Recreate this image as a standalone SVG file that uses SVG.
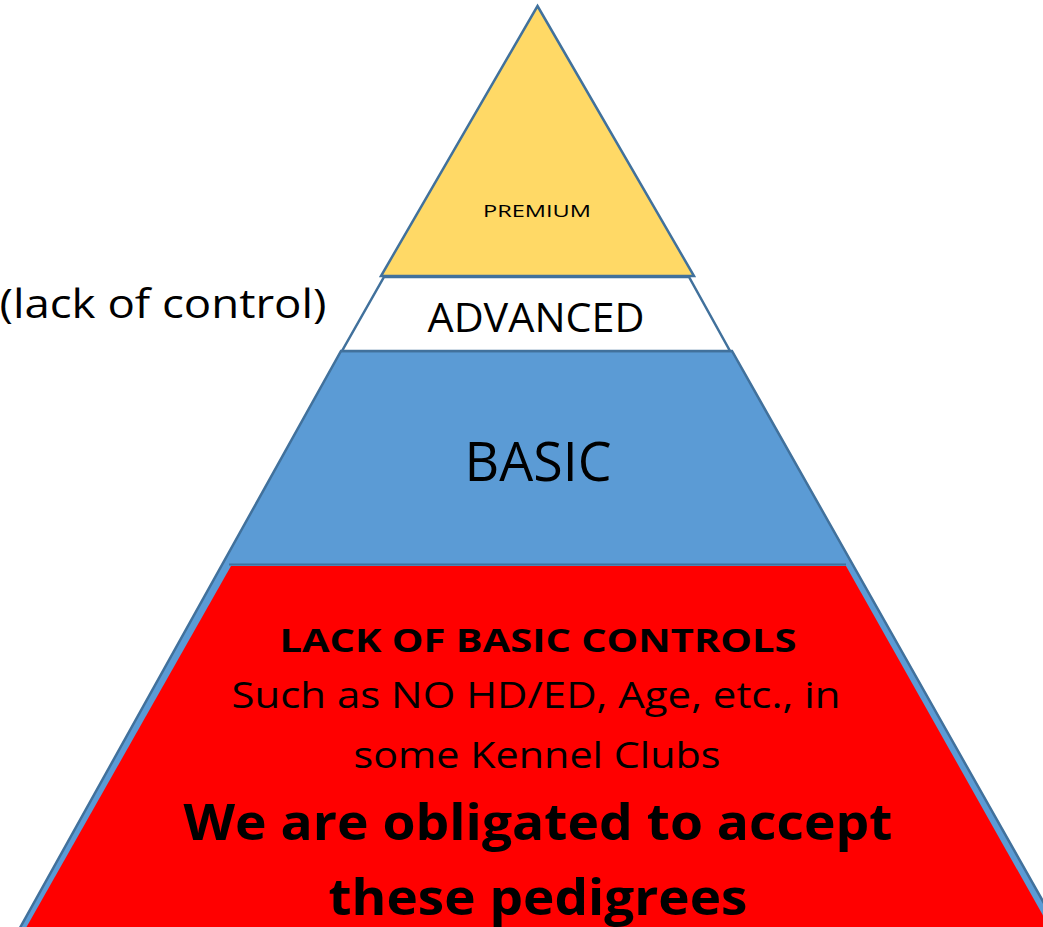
<svg xmlns="http://www.w3.org/2000/svg" width="1043" height="927" viewBox="0 0 1043 927">
<style>
.edge{stroke:#41719C;stroke-width:2.5;stroke-linejoin:miter}
.t{font-family:"Open Sans","Liberation Sans",Arial,sans-serif;fill:#000;text-anchor:middle}
.b{font-weight:bold}
</style>
<rect width="1043" height="927" fill="#fff"/>
<g id="basic">
<polygon class="edge" fill="#5B9BD5" points="341,351 732,351 1062,935 16,935"/>
<text class="t" x="538" y="481" font-size="54" textLength="147" lengthAdjust="spacingAndGlyphs">BASIC</text>
</g>
<g id="advanced">
<polygon class="edge" fill="#fff" points="384,277 689,277 730,351 342,351"/>
<text class="t" x="536" y="332" font-size="40" textLength="217" lengthAdjust="spacingAndGlyphs">ADVANCED</text>
</g>
<g id="premium">
<polygon class="edge" fill="#FFD966" points="537.5,6 694,276 381,276"/>
<text class="t" x="537" y="217" font-size="17" textLength="108" lengthAdjust="spacingAndGlyphs">PREMIUM</text>
</g>
<g id="lack">
<polygon fill="#FF0000" points="231,566 846,566 1054,935 22,935"/>
<line x1="229" y1="564.5" x2="846" y2="564.5" stroke="#41719C" stroke-width="2"/>
<text class="t b" x="538" y="652" font-size="33" textLength="517" lengthAdjust="spacingAndGlyphs">LACK OF BASIC CONTROLS</text>
<text class="t" x="536" y="708" font-size="37" textLength="609" lengthAdjust="spacingAndGlyphs">Such as NO HD/ED, Age, etc., in</text>
<text class="t" x="537" y="768" font-size="37" textLength="367" lengthAdjust="spacingAndGlyphs">some Kennel Clubs</text>
<text class="t b" x="538" y="840" font-size="51" textLength="709" lengthAdjust="spacingAndGlyphs">We are obligated to accept</text>
<text class="t b" x="538" y="915" font-size="51" textLength="419" lengthAdjust="spacingAndGlyphs">these pedigrees</text>
</g>
<g id="lack-of-control">
<text class="t" x="163" y="318" font-size="40" textLength="327" lengthAdjust="spacingAndGlyphs">(lack of control)</text>
</g>
</svg>
